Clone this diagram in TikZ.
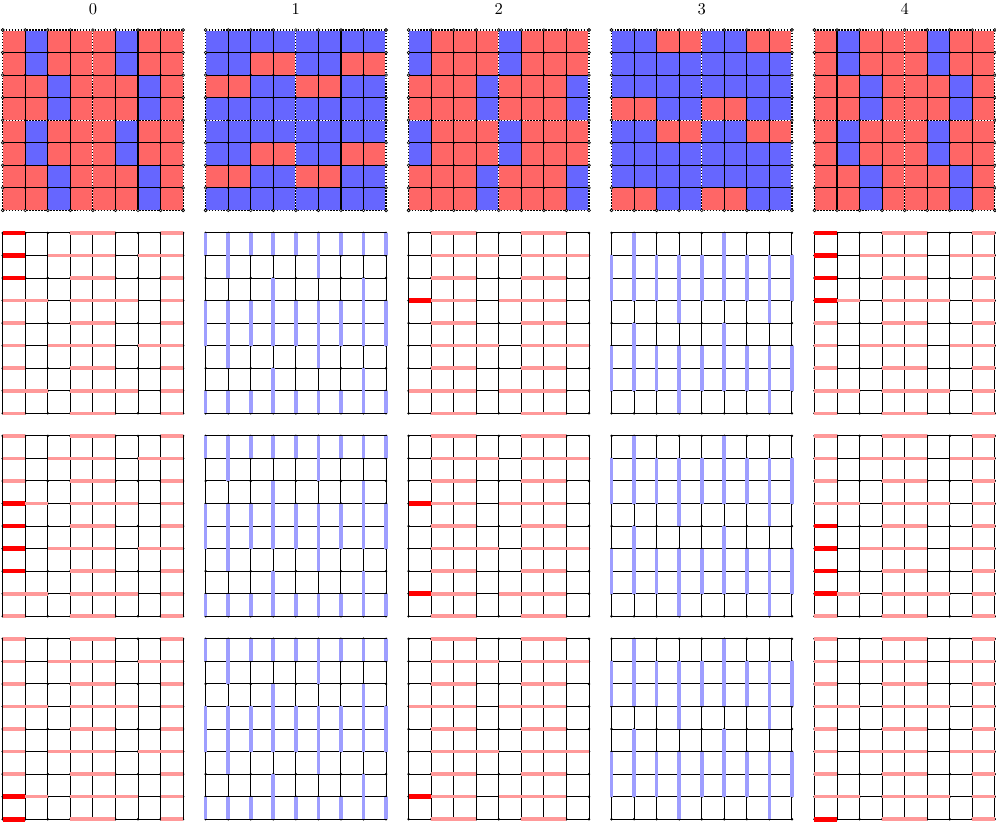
\documentclass[tikz,border=0pt]{standalone}
\definecolor{cr}{HTML}{FF6666}
\definecolor{cb}{HTML}{6666FF}
\definecolor{pinkedge}{HTML}{FF9999}
\definecolor{blueedge}{HTML}{9E9EFF}
\tikzset{
  gridline/.style={line width=0.6pt,black},
  topgrid/.style={line width=0.7pt,black},
  dashbase/.style={line width=0.7pt,white},
  dashtop/.style={line width=0.7pt,black,dash pattern=on 0.9pt off 0.9pt},
  bdot/.style={line width=0.4pt,black,fill=white},
  pinkseg/.style={line width=2.2pt,pinkedge},
  strongseg/.style={line width=2.8pt,red},
  blueseg/.style={line width=2.2pt,blueedge},
  paneltitle/.style={inner sep=0pt,font=\normalsize},
}
\newcommand\mytoppanel[2]{%
\begin{scope}[shift={(9*#1,0)}]
  \foreach \rw [count=\i from 0] in {#2}{%
    \foreach \cc [count=\j from 0] in \rw {\fill[fill=c\cc] (\j,-\i) rectangle ++(1,-1);}}
  \foreach \k in {1,2,3,5,6,7}{\draw[topgrid] (\k,0)--(\k,-8); \draw[topgrid] (0,-\k)--(8,-\k);}
  \foreach \k in {0,4,8}{\draw[dashbase] (\k,0)--(\k,-8); \draw[dashbase] (0,-\k)--(8,-\k);
    \draw[dashtop] (\k,0)--(\k,-8); \draw[dashtop] (0,-\k)--(8,-\k);}
  \foreach \x in {1,...,7}{\foreach \y in {1,...,7}{\fill (\x,-\y) circle[radius=0.06];}}
  \foreach \k in {0,...,8}{\draw[bdot] (\k,0) circle[radius=0.06]; \draw[bdot] (\k,-8) circle[radius=0.06];
    \draw[bdot] (0,-\k) circle[radius=0.06]; \draw[bdot] (8,-\k) circle[radius=0.06];}
  \node[paneltitle] (title#1) at (4,0.93) {#1};
\end{scope}}
\newcommand\mylowgrid{%
  \foreach \k in {0,...,8}{\draw[gridline] (\k,0)--(\k,-8); \draw[gridline] (0,-\k)--(8,-\k);}
  \foreach \x in {0,...,8}{\foreach \y in {0,...,8}{\fill (\x,-\y) circle[radius=0.06];}}}
\newcommand\mypinkpanel[6]{%
\begin{scope}[shift={(9*#1,-9*#2)}]
  \mylowgrid
  \foreach \k in {0,2,4,6,8}{\foreach \sa/\sb in {#3}{\draw[pinkseg] (\sa,-\k)--(\sb,-\k);}}
  \foreach \k in {1,5}{\foreach \sa/\sb in {#4}{\draw[pinkseg] (\sa,-\k)--(\sb,-\k);}}
  \foreach \k in {3,7}{\foreach \sa/\sb in {#5}{\draw[pinkseg] (\sa,-\k)--(\sb,-\k);}}
  \foreach \k in {#6}{\draw[strongseg] (0,-\k)--(1,-\k);}
\end{scope}}
\newcommand\mybluepanel[5]{%
\begin{scope}[shift={(9*#1,-9*#2)}]
  \mylowgrid
  \foreach \rr in {#3}{\foreach \x in {0,...,8}{\draw[blueseg] (\x,-\rr)--(\x,-\rr-1);}}
  \foreach \rr in {#4}{\foreach \x in {1,5}{\draw[blueseg] (\x,-\rr)--(\x,-\rr-1);}}
  \foreach \rr in {#5}{\foreach \x in {3,7}{\draw[blueseg] (\x,-\rr)--(\x,-\rr-1);}}
\end{scope}}
\begin{document}
\begin{tikzpicture}[x=0.48cm,y=0.48cm]
\useasboundingbox (-0.12,-35.12) rectangle (44.05,1.33);
% top row: spin configurations
\mytoppanel{0}{{r,b,r,r,r,b,r,r},{r,b,r,r,r,b,r,r},{r,r,b,r,r,r,b,r},{r,r,b,r,r,r,b,r},{r,b,r,r,r,b,r,r},{r,b,r,r,r,b,r,r},{r,r,b,r,r,r,b,r},{r,r,b,r,r,r,b,r}}
\mytoppanel{1}{{b,b,b,b,b,b,b,b},{b,b,r,r,b,b,r,r},{r,r,b,b,r,r,b,b},{b,b,b,b,b,b,b,b},{b,b,b,b,b,b,b,b},{b,b,r,r,b,b,r,r},{r,r,b,b,r,r,b,b},{b,b,b,b,b,b,b,b}}
\mytoppanel{2}{{b,r,r,r,b,r,r,r},{b,r,r,r,b,r,r,r},{r,r,r,b,r,r,r,b},{r,r,r,b,r,r,r,b},{b,r,r,r,b,r,r,r},{b,r,r,r,b,r,r,r},{r,r,r,b,r,r,r,b},{r,r,r,b,r,r,r,b}}
\mytoppanel{3}{{b,b,r,r,b,b,r,r},{b,b,b,b,b,b,b,b},{b,b,b,b,b,b,b,b},{r,r,b,b,r,r,b,b},{b,b,r,r,b,b,r,r},{b,b,b,b,b,b,b,b},{b,b,b,b,b,b,b,b},{r,r,b,b,r,r,b,b}}
\mytoppanel{4}{{r,b,r,r,r,b,r,r},{r,b,r,r,r,b,r,r},{r,r,b,r,r,r,b,r},{r,r,b,r,r,r,b,r},{r,b,r,r,r,b,r,r},{r,b,r,r,r,b,r,r},{r,r,b,r,r,r,b,r},{r,r,b,r,r,r,b,r}}
% row 1
\mypinkpanel{0}{1}{0/1,3/5,7/8}{0/1,2/5,6/8}{0/2,3/6,7/8}{0,1,2}
\mybluepanel{1}{1}{0,3,4,7}{1,5}{2,6}
\mypinkpanel{2}{1}{1/3,5/7}{1/4,5/8}{0/3,4/7}{3}
\mybluepanel{3}{1}{1,2,5,6}{0,4}{3,7}
\mypinkpanel{4}{1}{0/1,3/5,7/8}{0/1,2/5,6/8}{0/2,3/6,7/8}{0,1,2,3}
% row 2
\mypinkpanel{0}{2}{0/1,3/5,7/8}{0/1,2/5,6/8}{0/2,3/6,7/8}{3,4,5,6}
\mybluepanel{1}{2}{0,3,4,7}{1,5}{2,6}
\mypinkpanel{2}{2}{1/3,5/7}{1/4,5/8}{0/3,4/7}{3,7}
\mybluepanel{3}{2}{1,2,5,6}{0,4}{3,7}
\mypinkpanel{4}{2}{0/1,3/5,7/8}{0/1,2/5,6/8}{0/2,3/6,7/8}{4,5,6,7}
% row 3
\mypinkpanel{0}{3}{0/1,3/5,7/8}{0/1,2/5,6/8}{0/2,3/6,7/8}{7,8}
\mybluepanel{1}{3}{0,3,4,7}{1,5}{2,6}
\mypinkpanel{2}{3}{1/3,5/7}{1/4,5/8}{0/3,4/7}{7}
\mybluepanel{3}{3}{1,2,5,6}{0,4}{3,7}
\mypinkpanel{4}{3}{0/1,3/5,7/8}{0/1,2/5,6/8}{0/2,3/6,7/8}{8}
\end{tikzpicture}
\end{document}
